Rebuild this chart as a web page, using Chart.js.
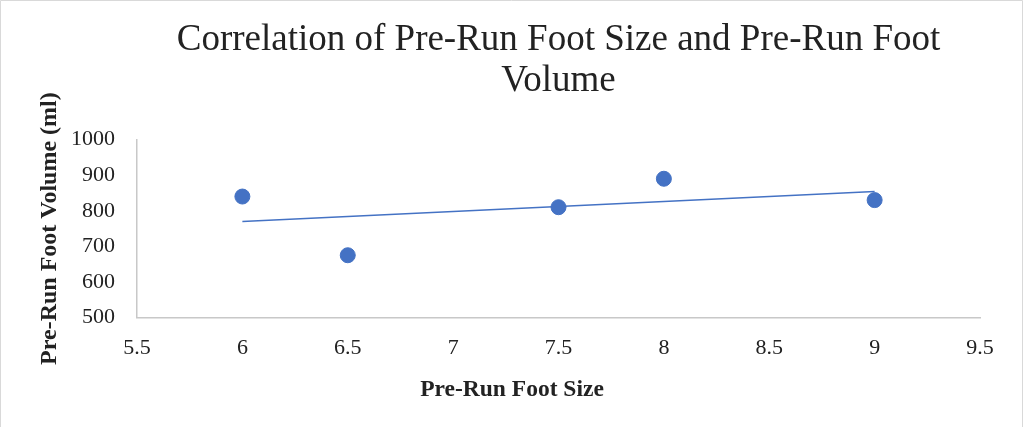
<!DOCTYPE html>
<html>
<head>
<meta charset="utf-8">
<script src="https://cdn.jsdelivr.net/npm/chart.js@4/dist/chart.umd.min.js"></script>
<style>
  html, body { margin: 0; padding: 0; background: #fff; }
  #wrap { position: relative; width: 1024px; height: 427px; }
</style>
</head>
<body>
<div id="wrap"><canvas id="c" width="1024" height="427"></canvas></div>
<script>
const chartTitle = ['Correlation of Pre-Run Foot Size and Pre-Run Foot', 'Volume'];
const xAxisTitle = 'Pre-Run Foot Size';
const yAxisTitle = 'Pre-Run Foot Volume (ml)';

const footSize = [6, 6.5, 7.5, 8, 9];
const footVolume = [840, 675, 810, 890, 830];

const trendSize = [6, 9];
const trendVolume = [770, 854];

const xTickValues = [5.5, 6, 6.5, 7, 7.5, 8, 8.5, 9, 9.5];
const yTickValues = [500, 600, 700, 800, 900, 1000];

const serif = "'Liberation Serif', 'Times New Roman', serif";
const blue = '#4472C4';
const axisGrey = '#c8c8c8';
const textColor = '#222222';

const framePlugin = {
  id: 'frame',
  beforeDraw(chart) {
    const ctx = chart.ctx;
    ctx.save();
    ctx.fillStyle = '#ffffff';
    ctx.fillRect(0, 0, chart.width, chart.height);
    ctx.restore();
  },
  afterDraw(chart) {
    const ctx = chart.ctx;
    ctx.save();
    ctx.strokeStyle = '#d9d9d9';
    ctx.lineWidth = 1;
    ctx.beginPath();
    ctx.moveTo(0.5, chart.height);
    ctx.lineTo(0.5, 0.5);
    ctx.lineTo(1022.5, 0.5);
    ctx.lineTo(1022.5, chart.height);
    ctx.stroke();
    ctx.restore();
  }
};

new Chart(document.getElementById('c'), {
  type: 'scatter',
  data: {
    datasets: [
      {
        label: 'Pre-Run Foot Volume',
        data: footSize.map((x, i) => ({ x: x, y: footVolume[i] })),
        backgroundColor: blue,
        borderColor: blue,
        pointRadius: 7.5,
        pointHoverRadius: 7.5,
        order: 0
      },
      {
        label: 'Trendline',
        data: trendSize.map((x, i) => ({ x: x, y: trendVolume[i] })),
        showLine: true,
        borderColor: blue,
        borderWidth: 1.5,
        pointRadius: 0,
        fill: false,
        order: 1
      }
    ]
  },
  options: {
    responsive: false,
    animation: false,
    layout: { padding: { left: 0, right: 0, top: 0, bottom: 0 } },
    plugins: {
      legend: { display: false },
      tooltip: { enabled: false },
      title: {
        display: true,
        fullSize: false,
        text: chartTitle,
        color: textColor,
        font: { family: serif, size: 37, weight: 'normal', lineHeight: 1.13 },
        padding: { top: 19, bottom: 37 }
      },
      subtitle: {
        display: true,
        position: 'bottom',
        fullSize: true,
        text: xAxisTitle,
        color: textColor,
        font: { family: serif, size: 23.5, weight: 'bold', lineHeight: 1.0 },
        padding: { top: 6, bottom: 25 }
      }
    },
    scales: {
      x: {
        type: 'linear',
        min: xTickValues[0],
        max: xTickValues[xTickValues.length - 1],
        afterBuildTicks(scale) { scale.ticks = xTickValues.map(v => ({ value: v })); },
        afterFit(scale) { scale.height = 55; },
        grid: { display: false, drawTicks: false },
        border: { display: true, color: axisGrey, width: 1.5 },
        ticks: {
          color: textColor,
          font: { family: serif, size: 22 },
          padding: 18,
          maxRotation: 0,
          autoSkip: false,
          callback: v => String(v)
        }
      },
      y: {
        type: 'linear',
        position: 'left',
        min: yTickValues[0],
        max: yTickValues[yTickValues.length - 1],
        afterBuildTicks(scale) { scale.ticks = yTickValues.map(v => ({ value: v })); },
        afterFit(scale) { scale.width = 137; },
        grid: { display: false, drawTicks: false },
        border: { display: true, color: axisGrey, width: 1.5 },
        ticks: {
          color: textColor,
          font: { family: serif, size: 22 },
          padding: 22,
          autoSkip: false,
          callback: v => String(v)
        },
        title: {
          display: true,
          text: yAxisTitle,
          color: textColor,
          font: { family: serif, size: 24, weight: 'bold', lineHeight: 1.0 },
          padding: { top: 38, bottom: 0 }
        }
      },
      ySpacer: {
        type: 'linear',
        position: 'right',
        min: yTickValues[0],
        max: yTickValues[yTickValues.length - 1],
        afterFit(scale) { scale.width = 44; },
        grid: { display: false, drawTicks: false },
        border: { display: false },
        ticks: { display: false }
      }
    }
  },
  plugins: [framePlugin]
});
</script>
</body>
</html>
